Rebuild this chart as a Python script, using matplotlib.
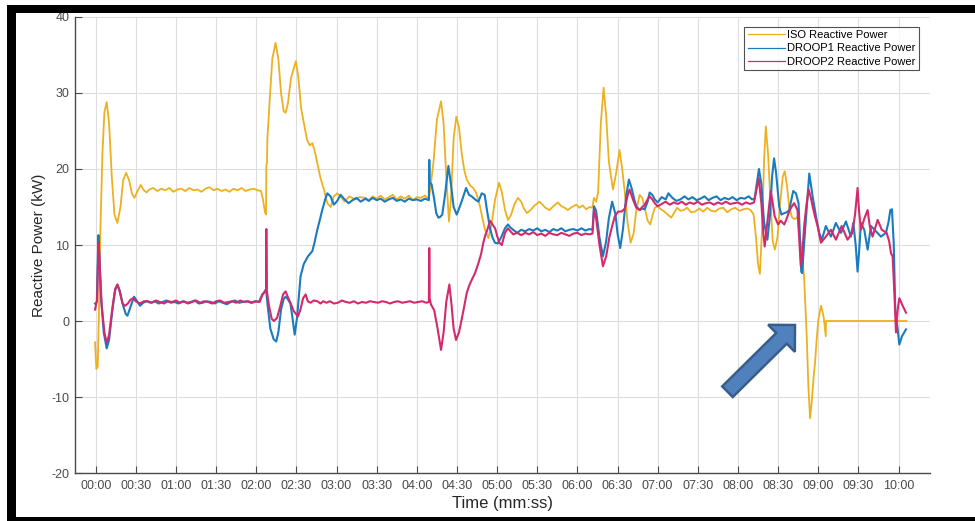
import numpy as np
import matplotlib
matplotlib.use("Agg")
import matplotlib.pyplot as plt
from matplotlib.patches import Rectangle, FancyArrow

# -------------------- DATA --------------------
# time in seconds, reactive power in kW

iso_t = [-0.5, 0.5, 1.5, 2.5, 3.5, 5, 6.5, 8.2, 10, 12, 14, 16.2, 18.5, 20.5, 22.7, 25, 27, 28.9, 31,
         33.6, 36, 38.1, 40, 43, 46, 49, 52, 55, 58, 61, 64, 67, 70, 73, 76, 79, 82, 85, 88, 91, 94,
         97, 100, 103, 106, 109, 112, 115, 118, 121, 123.5, 125, 126.5, 127.3, 127.5, 128, 128.3,
         130, 132, 134.4, 136.5, 138.5, 140.5, 141.9, 143.5, 146, 149.6, 151.5, 153.5, 155.6, 158,
         160, 161.9, 163.5, 165.6, 168, 170.6, 173.1, 175.6, 178, 180.5, 183, 186, 189.5, 194, 197,
         201.7, 204, 207, 210, 213, 216, 219, 222, 225, 228, 231, 234, 237, 240, 243, 246, 249,
         250, 252.5, 255, 258.1, 260, 262, 264, 265.5, 267.5, 269.5, 271.5, 273.5, 275.5, 277.3,
         280, 282.2, 284.5, 287.2, 289, 291, 293.5, 296, 298.5, 301.4, 303.5, 305.9, 308.1, 310.5,
         313, 315.6, 318, 320, 322.3, 325, 328, 331.7, 334, 336, 339.2, 342, 345.4, 348, 350.5,
         352.9, 355, 357, 359.1, 361.5, 364, 366.6, 369, 371.1, 372.4, 374.1, 375.5, 377.5, 379.6,
         381.5, 383.5, 386.6, 389, 391.5, 393.5, 395.5, 397.5, 399.8, 402, 404, 406.5, 408.5,
         410.3, 412.5, 414.5, 416, 417.8, 420, 422.5, 425, 427.5, 430.2, 432.5, 434.5, 437, 439.5,
         442, 445, 448, 451, 454, 457, 460, 463, 466, 469, 472, 475, 478, 481, 484, 487, 489.5,
         491.7, 493.5, 495, 496.4, 498, 499.5, 500.8, 502.5, 504.5, 506, 507.6, 509.5, 511.5,
         513.5, 515, 516.5, 518.3, 520.5, 522.5, 524.5, 526, 527.6, 529.4, 530.5, 531.4, 532.6,
         533.9, 535.2, 536.5, 537.6, 538.8, 540.1, 542.1, 543.5, 544.3, 545.6, 545.8, 606]
iso_q = [-2.8, -6.3, -6.0, 2, 12, 22, 27.5, 28.8, 26, 19, 14, 12.9, 15, 18.5, 19.5, 18.5, 16.8, 16.2, 17,
         17.9, 17.2, 16.9, 17.3, 17.5, 17.1, 17.4, 17.2, 17.5, 17.0, 17.3, 17.4, 17.1, 17.5, 17.2,
         17.3, 17.0, 17.4, 17.6, 17.2, 17.4, 17.1, 17.3, 17.0, 17.4, 17.2, 17.5, 17.1, 17.3, 17.4,
         17.2, 17.1, 16.0, 14.3, 14.0, 20.4, 20.8, 24.0, 29, 34.5, 36.6, 34.5, 30, 27.6, 27.4, 28.5,
         32, 34.2, 32, 28, 26, 23.8, 23.1, 23.4, 22.5, 20.8, 18.8, 17.3, 15.5, 15.0, 16.4, 16.8,
         16.4, 15.7, 16.4, 16.0, 16.3, 16.2, 15.9, 16.4, 16.1, 16.5, 16.0, 16.3, 16.6, 16.0, 16.4,
         16.1, 16.5, 15.9, 16.3, 16.2, 16.5, 16.1, 17.3, 21, 26.5, 28.9, 26, 19, 13.1, 16, 24, 26.9,
         25.5, 22.1, 19.8, 18.6, 17.8, 17.5, 16.8, 15.1, 13.5, 12.0, 10.9, 12.9, 16, 18.2, 17, 14.6,
         13.3, 14, 15.4, 16.2, 15.7, 14.8, 14.2, 14.6, 15.2, 15.7, 15.3, 14.9, 14.6, 15.1, 15.6,
         15.1, 14.9, 14.6, 14.9, 15.1, 15.3, 14.9, 15.2, 14.7, 15.0, 14.9, 16.2, 15.7, 17, 26, 30.7,
         27, 21, 17.3, 19.5, 22.5, 20, 16.8, 13, 10.3, 11.5, 14.5, 16.6, 16.2, 14.9, 13.2, 12.7,
         13.8, 14.9, 15.1, 14.7, 14.4, 14.0, 13.6, 14.3, 14.9, 14.5, 14.6, 14.9, 14.3, 14.4, 14.8,
         14.4, 14.9, 14.5, 14.4, 14.8, 14.9, 14.3, 14.7, 14.9, 14.5, 14.7, 14.8, 14.6, 14.0, 11,
         7.5, 6.2, 12, 21, 25.6, 22, 15, 10.5, 9.4, 11, 15.5, 19, 19.7, 18, 15, 13.6, 13.4, 13.7,
         11.5, 9.2, 5.9, 1.5, -2.0, -8.5, -12.8, -10.5, -7.5, -5.5, -2.5, 0.2, 2.0, 1.0, 0.2,
         -2.0, 0.0, 0.0]

droop1_t = [-0.5, 0.8, 1.5, 2.0, 2.6, 4, 6, 8.2, 10, 12.5, 14.5, 16.2, 18, 20.5, 22.5, 23.7, 25.5,
            28.6, 31, 33.1, 35.5, 38, 41, 44, 47, 50, 53, 56, 59, 62, 65, 68, 71, 74, 77, 80, 83,
            86, 89, 92, 95, 98, 101, 104, 107, 110, 113, 116, 119, 122, 124.5, 126.5, 127.3,
            128.5, 130.5, 133, 134.9, 136.5, 138.5, 140.5, 141.9, 143.5, 145.5, 147, 148.7,
            150.5, 153.1, 155.5, 158.6, 160.5, 161.9, 163.5, 165.6, 167.5, 169.3, 171.5, 173.1,
            175.5, 178, 180.5, 183, 186, 189, 192, 195, 198, 201.7, 204, 207, 210, 213, 216, 219,
            222, 225, 228, 231, 234, 237, 240, 243, 246, 249, 249.3, 249.6, 251, 253, 254.5,
            256.1, 257.5, 259, 261, 263.6, 265.5, 267.5, 269.8, 272, 274, 276.8, 279, 281, 283.5,
            286, 288.5, 290.7, 292.5, 294.7, 296.5, 298.4, 300.5, 303, 305.9, 308.1, 310, 312,
            315, 318, 321, 324, 327, 330, 333, 336, 339, 342, 345, 348, 351, 354, 357, 360, 363,
            366, 369, 371.3, 372.4, 374, 376.5, 379.1, 381.5, 383.5, 386, 388.5, 390, 392, 394,
            396.5, 398.5, 400.5, 402.5, 404, 406.5, 408.5, 410.3, 412.5, 414, 416, 417.8, 420,
            423, 426, 428, 431, 434, 437, 440, 443, 446, 449, 452, 455, 458, 461, 464, 467, 470,
            473, 476, 479, 482, 485, 488, 490.5, 492.5, 494, 495.7, 497.5, 499.5, 502, 504,
            505.5, 507, 508.5, 510.8, 512.5, 514.6, 516.5, 518.3, 520, 521.3, 523.3, 525.3,
            526.3, 527.3, 528, 529.5, 531.3, 533.3, 535.8, 538.3, 540.7, 542.7, 545.7, 549.5,
            553.2, 557, 560.7, 564.4, 566.2, 568, 569.4, 570.5, 571.9, 574.4, 576.9, 579.4, 583.1,
            586.9, 590.6, 592.5, 593.9, 595.1, 596.4, 597.6, 599.4, 600.6, 602.6, 605.6]
droop1_q = [2.3, 2.5, 8, 11.3, 9, 3, -1.5, -3.6, -2.5, 1.5, 4, 4.8, 4, 2, 0.9, 0.7, 1.6, 3.2, 2.6,
            2.0, 2.4, 2.6, 2.4, 2.6, 2.3, 2.5, 2.7, 2.4, 2.5, 2.3, 2.6, 2.4, 2.5, 2.7, 2.3, 2.4,
            2.6, 2.5, 2.3, 2.6, 2.4, 2.2, 2.5, 2.7, 2.4, 2.5, 2.6, 2.4, 2.6, 2.5, 3.5, 3.9, 4.2, 2,
            -1.0, -2.4, -2.7, -1.5, 1.5, 2.9, 3.2, 2.9, 2.3, 0.5, -1.8, 0.5, 5.9, 7.5, 8.5, 8.9,
            9.2, 10.3, 12.0, 13.3, 14.6, 16, 16.8, 16.4, 15.3, 15.8, 16.6, 16.0, 15.5, 15.9, 16.2,
            15.7, 16.1, 15.8, 16.2, 15.9, 16.1, 15.7, 16.0, 16.2, 15.8, 16.0, 15.7, 16.1, 15.9,
            16.0, 15.8, 16.1, 15.9, 21.2, 18.2, 18.0, 16, 14.2, 13.6, 13.7, 14.0, 16.5, 20.4, 18,
            15, 14.0, 15, 16.0, 17.5, 16.6, 16.4, 16.0, 15.7, 16.8, 16.6, 14.5, 12.2, 11, 10.3,
            10.2, 11, 12.2, 12.7, 12.3, 12.0, 11.6, 12.0, 11.8, 12.1, 11.9, 12.2, 11.8, 12.0, 11.7,
            12.1, 11.9, 12.2, 11.8, 12.0, 12.1, 11.9, 12.2, 11.9, 12.1, 12.0, 15.1, 14.5, 11, 8.5,
            10.5, 13.5, 15.7, 14, 11.5, 9.6, 12, 16.5, 18.6, 17.5, 16, 15.1, 14.6, 14.8, 14.7,
            15.7, 16.9, 16.6, 16.0, 15.6, 16.3, 16.0, 16.8, 16.2, 15.8, 16.0, 16.4, 16.0, 16.3,
            15.9, 16.1, 16.4, 15.9, 16.2, 16.4, 15.9, 16.2, 16.0, 16.3, 15.9, 16.2, 16.1, 16.4,
            16.0, 16.1, 18, 20.0, 18, 13, 10.7, 14, 19, 21.4, 19.5, 15.1, 14.0, 14.2, 14.3, 14.6,
            16, 17.1, 16.8, 15.5, 11, 6.5, 6.3, 10.3, 14.6, 19.4, 16.4, 13.8, 11.6, 10.7, 12.5,
            11.1, 12.9, 11.6, 13.1, 11.1, 12.9, 10, 6.5, 9, 12.9, 12.0, 9.4, 12.5, 11.8, 11.1,
            11.6, 13, 14.6, 14.7, 10.3, 1.5, -1.1, -3.1, -2.0, -1.1]

droop2_t = [-0.5, 0.5, 1.0, 1.6, 2.2, 3, 4.5, 6.5, 8.2, 10, 12.5, 14.5, 16.2, 18, 20, 22, 24, 26,
            28, 30, 33, 36, 39, 42, 45, 48, 51, 54, 57, 60, 63, 66, 69, 72, 75, 78, 81, 84, 87,
            90, 93, 96, 99, 102, 105, 108, 111, 114, 117, 120, 122.5, 124.5, 126.5, 127.4,
            127.5, 127.8, 129.5, 131.5, 133.2, 135.5, 138, 140, 141.9, 143.5, 145.5, 148, 151.1,
            153, 155, 156.9, 158.5, 160.5, 163, 165.6, 168, 170, 172.5, 175, 178, 181, 184, 187,
            190, 193, 196, 199, 202, 205, 208, 211, 214, 217, 220, 223, 226, 229, 232, 235, 238,
            241, 244, 247, 249, 249.3, 249.6, 250.5, 253, 255.5, 258.1, 260, 262, 264.3, 266,
            267.5, 269.3, 271.5, 273.5, 275.5, 277.3, 279, 281, 283.5, 286, 288, 289.7, 291,
            292.7, 294.7, 296.5, 298.5, 300, 301.7, 303.5, 305.9, 308.1, 310, 312, 315, 318, 321,
            324, 327, 330, 333, 336, 339, 342, 345, 348, 351, 354, 357, 360, 363, 366, 369,
            371.3, 372.4, 374, 376.5, 379.1, 381.5, 384, 386, 388, 390.5, 393, 395.5, 397.5, 399,
            401.5, 404, 406.5, 408.5, 410.3, 412.5, 414, 416, 417.8, 420, 423, 426, 429, 432,
            435, 438, 441, 444, 447, 450, 453, 456, 459, 462, 465, 468, 471, 474, 477, 480, 483,
            486, 489, 492, 493.5, 495.5, 497.5, 499, 500, 502, 504.5, 506, 507.4, 510, 512,
            514.6, 516.5, 518.3, 520, 522, 524.5, 526.3, 527, 528.3, 529.5, 531, 532.8, 534.5,
            535.8, 537.5, 539.5, 542, 545.7, 549.5, 553.2, 557.5, 561.9, 565.5, 567.5, 569.4,
            570.5, 571.9, 574.5, 576.9, 578.5, 580.6, 584.4, 587.5, 591.1, 593, 594.4, 595.6,
            596.9, 598.1, 599.4, 600.6, 603.1, 605.6]
droop2_q = [1.5, 2.4, 2.6, 7, 10.3, 7.5, 2, -1.5, -2.9, -1.8, 1.8, 4.2, 4.8, 3.8, 2.3, 2.0, 2.3,
            2.8, 3.0, 2.6, 2.3, 2.6, 2.6, 2.4, 2.7, 2.5, 2.3, 2.6, 2.5, 2.7, 2.4, 2.6, 2.3, 2.5,
            2.7, 2.4, 2.6, 2.5, 2.3, 2.6, 2.7, 2.4, 2.5, 2.6, 2.4, 2.7, 2.5, 2.6, 2.4, 2.6, 2.5,
            3.4, 3.9, 4.2, 12.1, 4.1, 2.0, 0.3, 0.0, 0.4, 2, 3.5, 3.9, 3.2, 2.4, 1.3, 0.6, 1.5,
            3.0, 3.5, 2.6, 2.4, 2.7, 2.6, 2.3, 2.6, 2.4, 2.6, 2.3, 2.4, 2.7, 2.5, 2.4, 2.6, 2.3,
            2.5, 2.4, 2.6, 2.5, 2.4, 2.6, 2.5, 2.3, 2.5, 2.6, 2.4, 2.5, 2.6, 2.4, 2.5, 2.6, 2.4,
            2.5, 9.6, 3.0, 2.2, 1.4, -1.0, -3.8, -1.5, 2.5, 4.8, 2, -1.0, -2.5, -1.5, 0.2, 2.0,
            3.7, 4.6, 5.4, 6.3, 7.6, 8.8, 10.3, 11.2, 12.0, 13.2, 12.7, 12.2, 11.2, 10.3, 10.0,
            11.6, 12.2, 11.8, 11.4, 11.6, 11.3, 11.6, 11.4, 11.7, 11.3, 11.5, 11.2, 11.6, 11.4,
            11.3, 11.6, 11.4, 11.2, 11.5, 11.6, 11.3, 11.5, 11.4, 11.5, 14.6, 13.5, 10, 7.2, 8.5,
            11.1, 12.5, 13.8, 14.4, 14.4, 14.8, 16.5, 17.3, 16, 14.9, 14.6, 15.0, 15.3, 16.0,
            16.4, 16.0, 15.5, 15.1, 15.4, 15.7, 15.3, 15.6, 15.4, 15.7, 15.3, 15.6, 15.4, 15.7,
            15.3, 15.5, 15.6, 15.3, 15.6, 15.4, 15.7, 15.4, 15.5, 15.6, 15.3, 15.6, 15.4, 15.6,
            17, 18.8, 15.5, 11.5, 9.8, 13, 17.1, 15.5, 13.8, 12.7, 13.2, 12.7, 13.5, 14.4, 15.0,
            15.5, 14.6, 9.4, 7.2, 9.5, 12.5, 15, 17.3, 16.2, 15.1, 13.8, 12.5, 10.3, 11.1, 12.0,
            10.7, 12.5, 10.7, 11.6, 14, 17.5, 14.5, 12.0, 13.5, 14.6, 12.5, 11.1, 13.3, 12.0,
            11.6, 10.5, 8.9, 8.5, 3.7, -1.5, 1.5, 3.0, 2.0, 1.1]

series_labels = ["ISO Reactive Power", "DROOP1 Reactive Power", "DROOP2 Reactive Power"]
xtick_secs = list(range(0, 601, 30))
xtick_labels = [f"{s // 60:02d}:{s % 60:02d}" for s in xtick_secs]
ytick_vals = [-20, -10, 0, 10, 20, 30, 40]

# -------------------- STYLE --------------------
plt.rcParams["font.family"] = ["Liberation Sans", "DejaVu Sans"]
plt.rcParams["axes.unicode_minus"] = False
c_iso, c_d1, c_d2 = "#EDB120", "#1A7BBF", "#D42A6C"
grey = "#4A4A4A"

fig = plt.figure(figsize=(9.75, 5.21), dpi=100)
ax = fig.add_axes([0.0769, 0.0921, 0.8769, 0.8753])

ax.plot(iso_t, iso_q, color=c_iso, lw=1.3, label=series_labels[0])
ax.plot(droop1_t, droop1_q, color=c_d1, lw=1.5, label=series_labels[1])
ax.plot(droop2_t, droop2_q, color=c_d2, lw=1.5, label=series_labels[2])

ax.set_xlim(-15.5, 623.5)
ax.set_ylim(-20, 40)
ax.set_xticks(xtick_secs)
ax.set_xticklabels(xtick_labels)
ax.set_yticks(ytick_vals)
ax.grid(True, color="#DEDEDE", lw=0.8)
ax.set_axisbelow(True)
for side in ("top", "right"):
    ax.spines[side].set_visible(False)
for side in ("left", "bottom"):
    ax.spines[side].set_color(grey)
    ax.spines[side].set_linewidth(1.0)
ax.tick_params(axis="x", direction="in", length=5, width=0.8, color=grey,
               labelcolor=grey, labelsize=9, pad=5)
ax.tick_params(axis="y", direction="in", length=5, width=0.8, color=grey,
               labelcolor=grey, labelsize=9, pad=4)

ax.set_xlabel("Time (mm:ss)", fontsize=12, color="#262626")
ax.set_ylabel("Reactive Power (kW)", fontsize=11, color="#262626")
ax.xaxis.set_label_coords(0.5, -0.05)
ax.yaxis.set_label_coords(-0.034, 0.5)

leg = ax.legend(loc="upper right", bbox_to_anchor=(0.987, 0.978), borderaxespad=0,
                fontsize=8, frameon=True, fancybox=False, handlelength=3.4,
                handletextpad=0.15, labelspacing=0.28, borderpad=0.3)
leg.get_frame().set_edgecolor("#262626")
leg.get_frame().set_linewidth(0.8)
for line in leg.get_lines():
    line.set_linewidth(0.9)

# -------------------- ANNOTATION ARROW & FRAME (pixel layout) --------------------
px = fig.dpi_scale_trans
H = 521
tail = (727.5, 391.7)
tip = (795.0, 325.0)
arrow = FancyArrow(tail[0] / 100, (H - tail[1]) / 100,
                   (tip[0] - tail[0]) / 100, (tail[1] - tip[1]) / 100,
                   width=0.15, head_width=0.38, head_length=0.19,
                   length_includes_head=True, transform=px,
                   facecolor="#4F81BD", edgecolor="#385D8A", lw=1.8)
fig.add_artist(arrow)

for (x0, y0, w, h) in [(7, 5, 968, 8), (7, 5, 9, 516), (7, 517, 968, 4)]:
    fig.add_artist(Rectangle((x0 / 100, (H - y0 - h) / 100), w / 100, h / 100,
                             transform=px, facecolor="black", edgecolor="none"))

fig.savefig("out.png", dpi=100)
